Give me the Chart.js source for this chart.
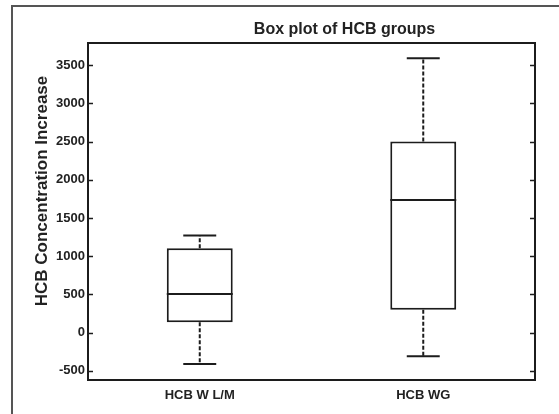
<!DOCTYPE html>
<html>
<head>
<meta charset="utf-8">
<script src="https://cdn.jsdelivr.net/npm/chart.js@4"></script>
<style>
html,body{margin:0;padding:0;background:#fff}
#wrap{width:559px;height:414px;position:relative}
</style>
</head>
<body>
<div id="wrap"><canvas id="graph" width="559" height="414"></canvas></div>
<script>
// box plot values
let groups=["HCB W L/M","HCB WG"]
let whiskerLow=[-410,-310]
let q1=[135,300]
let median=[505,1735]
let q3=[1105,2500]
let whiskerHigh=[1270,3590]
let yTicks=[-500,0,500,1000,1500,2000,2500,3000,3500]

let ink="#1c1c1c"

let boxPlugin={
id:"boxextras",
beforeDraw(chart){
let c=chart.ctx
c.save()
c.strokeStyle="#555"
c.lineWidth=2
c.beginPath()
c.moveTo(12,414)
c.lineTo(12,6)
c.lineTo(559,6)
c.stroke()
c.restore()
},
afterDatasetsDraw(chart){
let c=chart.ctx
let y=chart.scales.y
let meta=chart.getDatasetMeta(0)
c.save()
c.strokeStyle=ink
c.lineWidth=2
meta.data.forEach((bar,i)=>{
let x=bar.x
let w=bar.width
// median
c.setLineDash([])
c.beginPath()
c.moveTo(x-w/2,y.getPixelForValue(median[i]))
c.lineTo(x+w/2,y.getPixelForValue(median[i]))
c.stroke()
// caps
c.beginPath()
c.moveTo(x-w/4,y.getPixelForValue(whiskerHigh[i]))
c.lineTo(x+w/4,y.getPixelForValue(whiskerHigh[i]))
c.moveTo(x-w/4,y.getPixelForValue(whiskerLow[i]))
c.lineTo(x+w/4,y.getPixelForValue(whiskerLow[i]))
c.stroke()
// whiskers
c.setLineDash([4,2])
c.beginPath()
c.moveTo(x,y.getPixelForValue(q3[i]))
c.lineTo(x,y.getPixelForValue(whiskerHigh[i]))
c.moveTo(x,y.getPixelForValue(q1[i]))
c.lineTo(x,y.getPixelForValue(whiskerLow[i]))
c.stroke()
})
c.restore()
},
afterDraw(chart){
let c=chart.ctx
let a=chart.chartArea
let y=chart.scales.y
c.save()
c.strokeStyle=ink
c.lineWidth=2
c.strokeRect(a.left,a.top,a.right-a.left,a.bottom-a.top)
// inward ticks on both sides
c.lineWidth=1.5
c.beginPath()
yTicks.forEach(v=>{
let py=Math.round(y.getPixelForValue(v))+0.5
c.moveTo(a.left,py);c.lineTo(a.left+5,py)
c.moveTo(a.right,py);c.lineTo(a.right-5,py)
})
c.stroke()
c.fillStyle="#222"
c.textAlign="center"
c.textBaseline="middle"
c.font="bold 16px Arial, 'Liberation Sans', sans-serif"
c.fillText("Box plot of HCB groups",(a.left+a.right)/2+33,30)
c.translate(42,191)
c.rotate(-Math.PI/2)
c.font="bold 17px Arial, 'Liberation Sans', sans-serif"
c.fillText("HCB Concentration Increase",0,0)
c.restore()
}
}

let ctx=document.getElementById("graph").getContext("2d")

let chart=new Chart(ctx,{
type:"bar",
data:{
labels:groups,
datasets:[{
data:groups.map((g,i)=>[q1[i],q3[i]]),
backgroundColor:"#fff",
borderColor:ink,
borderWidth:2,
borderSkipped:false,
barPercentage:0.295,
categoryPercentage:1
}]
},
options:{
responsive:false,
animation:false,
layout:{padding:{top:43,right:24,left:0,bottom:0}},
plugins:{legend:{display:false},tooltip:{enabled:false},title:{display:false}},
scales:{
x:{
grid:{display:false,drawTicks:false},
border:{display:false},
ticks:{color:"#222",font:{family:"Arial, 'Liberation Sans', sans-serif",size:13,weight:"bold"},padding:8},
afterFit(s){s.height=34}
},
y:{
min:-620,
max:3790,
grid:{display:false,drawTicks:false},
border:{display:false},
afterBuildTicks(s){s.ticks=yTicks.map(v=>({value:v}))},
ticks:{color:"#222",font:{family:"Arial, 'Liberation Sans', sans-serif",size:13,weight:"bold"},padding:3,callback:v=>String(v)},
afterFit(s){s.width=88}
}
}
},
plugins:[boxPlugin]
})
</script>
</body>
</html>
